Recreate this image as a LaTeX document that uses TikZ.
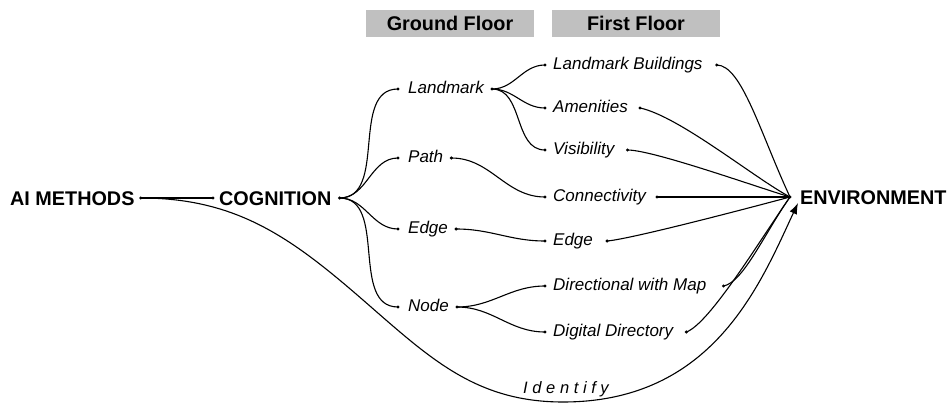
\documentclass[tikz,border=0pt]{standalone}
\usepackage{fontspec}
\setmainfont{Liberation Sans}
\usetikzlibrary{arrows.meta}
\definecolor{floorgray}{RGB}{192,192,192}
\begin{document}
\begin{tikzpicture}[x=1pt,y=1pt,
  bigtxt/.style={font=\fontsize{19.8}{22}\selectfont\bfseries, inner sep=0pt,
    anchor=west, text height=14.2pt, text depth=0pt},
  lbl/.style={font=\fontsize{17}{20}\selectfont\itshape, inner sep=0pt,
    anchor=west, text height=8.8pt, text depth=0pt},
  floor/.style={fill=floorgray, minimum width=168pt, minimum height=27pt,
    inner sep=0pt, font=\fontsize{19.8}{22}\selectfont\bfseries},
  idl/.style={font=\fontsize{16.5}{19}\selectfont\itshape\addfontfeatures{LetterSpace=28},
    inner sep=0pt, anchor=base west},
  link/.style={line width=1.1pt, black},
  spot/.style={fill=black}
]
\useasboundingbox (0,0) rectangle (951,-404);

% floor headers
\node[floor] (gf) at (450,-23.5) {Ground Floor};
\node[floor] (ff) at (636,-23.5) {First Floor};

% main terms
\node[bigtxt] (ai)  at (10,-198)  {AI METHODS};
\node[bigtxt] (cog) at (219,-198) {COGNITION};
\node[bigtxt] (env) at (800,-197) {ENVIRONMENT};
\coordinate (ai-o)  at ([xshift=6pt]ai.east);
\coordinate (cog-i) at ([xshift=-6pt]cog.west);
\coordinate (cog-o) at ([xshift=8pt]cog.east);
\coordinate (env-i) at ([xshift=-10pt]env.west);
\coordinate (env-a) at ([shift={(-2pt,-6pt)}]env.west);

% ground floor items
\node[lbl] (lm) at (408,-89)  {Landmark};
\node[lbl] (pa) at (408,-158) {Path};
\node[lbl] (ed) at (408,-229) {Edge};
\node[lbl] (nd) at (408,-307) {Node};
\foreach \n in {lm,pa,ed,nd}{
  \coordinate (\n-i) at ([xshift=-10pt]\n.west);
  \coordinate (\n-o) at ([xshift=8pt]\n.east);
}

% first floor items
\node[lbl] (lb) at (553,-65)  {Landmark Buildings};
\node[lbl] (am) at (553,-108) {Amenities};
\node[lbl] (vi) at (553,-150) {Visibility};
\node[lbl] (co) at (553,-197) {Connectivity};
\node[lbl] (e2) at (553,-241) {Edge};
\node[lbl] (di) at (553,-286) {Directional with Map};
\node[lbl] (dg) at (553,-332) {Digital Directory};
\foreach \n/\g in {lb/14,am/12,vi/13,co/11,e2/14,di/17,dg/13}{
  \coordinate (\n-i) at ([xshift=-8pt]\n.west);
  \coordinate (\n-o) at ([xshift=\g pt]\n.east);
}

% connectors
\draw[link] (ai-o) -- (cog-i);
\foreach \t in {lm,pa,ed,nd}
  \draw[link] (cog-o) to[out=0,in=180] (\t-i);
\foreach \t in {lb,am,vi}
  \draw[link] (lm-o) to[out=0,in=180] (\t-i);
\draw[link] (pa-o) to[out=0,in=180] (co-i);
\draw[link] (ed-o) to[out=0,in=180] (e2-i);
\draw[link] (nd-o) to[out=0,in=180] (di-i);
\draw[link] (nd-o) to[out=0,in=180] (dg-i);

\draw[link] (lb-o) .. controls +(0:25) and +(115:70) .. (env-i);
\draw[link] (am-o) .. controls +(-12:40) and +(152:40) .. (env-i);
\draw[link] (vi-o) .. controls +(0:25) and +(163:40) .. (env-i);
\draw[link] (co-o) -- (env-i);
\draw[link] (e2-o) .. controls +(5:25) and +(195:40) .. (env-i);
\draw[link] (di-o) .. controls +(10:20) and +(235:45) .. (env-i);
\draw[link] (dg-o) .. controls +(20:25) and +(235:50) .. (env-i);

% the long "Identify" link
\coordinate (id1) at (363,-300);
\coordinate (id2) at (563,-402);
\draw[link, -{Latex[length=11pt,width=8pt]}] (ai-o) to[out=0,in=139] (id1)
  to[out=-41,in=180] (id2) .. controls +(0:150) and +(245:90) .. (env-a);
\node[idl] (idt) at (523,-393) {Identify};

% end dots
\foreach \c in {ai-o,cog-i,cog-o,env-i,lm-i,lm-o,pa-i,pa-o,ed-i,ed-o,nd-i,nd-o,
  lb-i,lb-o,am-i,am-o,vi-i,vi-o,co-i,co-o,e2-i,e2-o,di-i,di-o,dg-i,dg-o}
  \fill[spot] (\c) circle (1.7pt);
\end{tikzpicture}
\end{document}
